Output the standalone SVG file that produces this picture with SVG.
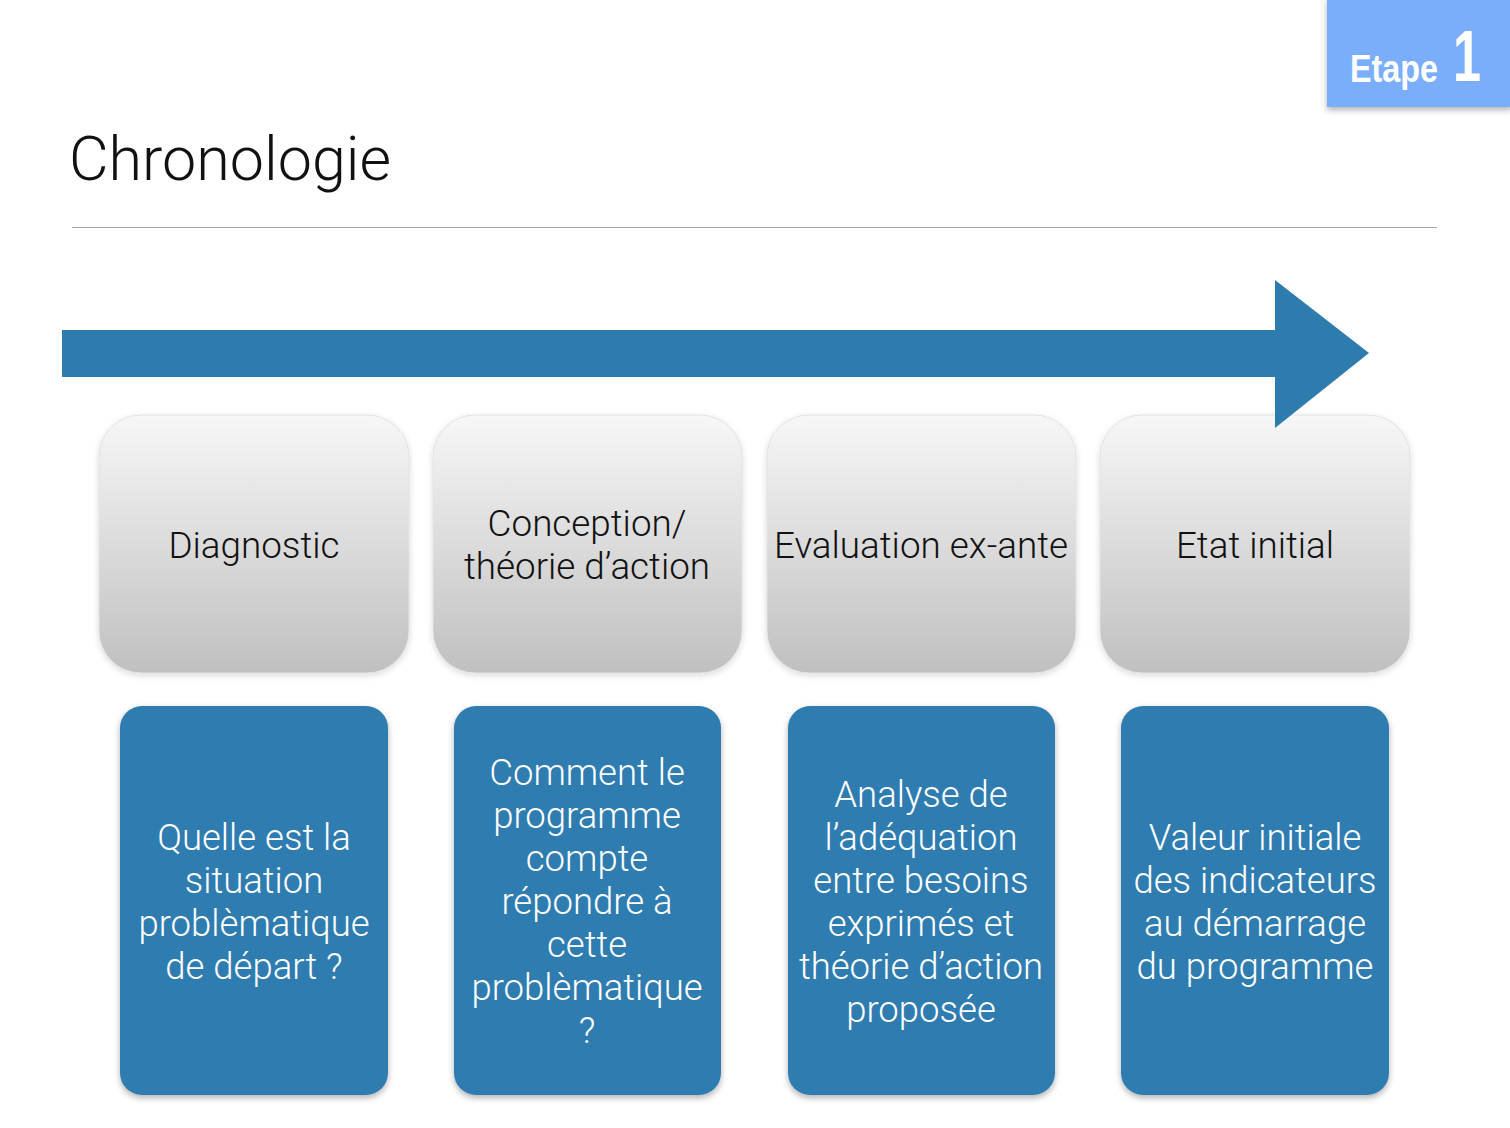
<svg xmlns="http://www.w3.org/2000/svg" width="1510" height="1128" viewBox="0 0 1510 1128">
<defs>
<linearGradient id="grayGrad" x1="0" y1="0" x2="0" y2="1">
<stop offset="0" stop-color="#f7f7f7"/>
<stop offset="1" stop-color="#c0c0c0"/>
</linearGradient>
<filter id="shadow" x="-10%" y="-10%" width="120%" height="120%">
<feDropShadow dx="0" dy="3" stdDeviation="3" flood-color="#000" flood-opacity="0.3"/>
</filter>
<filter id="shadowSoft" x="-10%" y="-10%" width="120%" height="120%">
<feDropShadow dx="0" dy="2" stdDeviation="3" flood-color="#000" flood-opacity="0.15"/>
</filter>
</defs>
<style>
.gray{fill:url(#grayGrad);stroke:#e2e2e2;stroke-width:1;filter:url(#shadowSoft)}
.blue{fill:#2f7bb0;filter:url(#shadow)}
.gtxt{font-family:Roboto,"Liberation Sans",Arial,sans-serif;font-weight:300;font-size:36.8px;fill:#111;text-anchor:middle}
.btxt{font-family:Roboto,"Liberation Sans",Arial,sans-serif;font-weight:300;font-size:36.5px;fill:#ffffff;text-anchor:middle}
</style>
<rect width="1510" height="1128" fill="#ffffff"/>

<g id="badge">
<rect x="1327" y="-2" width="185" height="109" fill="#7aaefb" filter="url(#shadow)"/>
<text x="1350" y="82" font-family="Liberation Sans,Arial,sans-serif" font-weight="bold" font-size="38" fill="#fff" textLength="88" lengthAdjust="spacingAndGlyphs">Etape</text>
<text x="1453" y="81" font-family="Liberation Sans,Arial,sans-serif" font-weight="bold" font-size="72" fill="#fff" textLength="28" lengthAdjust="spacingAndGlyphs">1</text>
</g>

<g id="title">
<text x="69" y="180" font-family="Roboto,Liberation Sans,Arial,sans-serif" font-weight="300" font-size="61" fill="#111">Chronologie</text>
<line x1="72" y1="227.5" x2="1437" y2="227.5" stroke="#aaaaaa" stroke-width="1"/>
</g>

<g id="node-diagnostic">
<rect class="gray" x="99" y="415" width="310" height="258" rx="42"/>
<text class="gtxt" x="254" y="558">Diagnostic</text>
</g>
<g id="node-conception">
<rect class="gray" x="433" y="415" width="309" height="258" rx="42"/>
<text class="gtxt" x="587" y="536">Conception/</text>
<text class="gtxt" x="587" y="579">théorie d’action</text>
</g>
<g id="node-evaluation">
<rect class="gray" x="767" y="415" width="309" height="258" rx="42"/>
<text class="gtxt" x="921" y="558">Evaluation ex-ante</text>
</g>
<g id="node-etat">
<rect class="gray" x="1100" y="415" width="310" height="258" rx="42"/>
<text class="gtxt" x="1255" y="558">Etat initial</text>
</g>

<g id="connectors">
<polygon points="62,330 1275,330 1275,280 1369,353 1275,428 1275,377 62,377" fill="#2e7bae"/>
</g>

<g id="node-q1">
<rect class="blue" x="120" y="706" width="268" height="389" rx="22"/>
<text class="btxt" x="254" y="850">Quelle est la</text>
<text class="btxt" x="254" y="893">situation</text>
<text class="btxt" x="254" y="936">problèmatique</text>
<text class="btxt" x="254" y="979">de départ ?</text>
</g>
<g id="node-q2">
<rect class="blue" x="454" y="706" width="267" height="389" rx="22"/>
<text class="btxt" x="587" y="785">Comment le</text>
<text class="btxt" x="587" y="828">programme</text>
<text class="btxt" x="587" y="871">compte</text>
<text class="btxt" x="587" y="914">répondre à</text>
<text class="btxt" x="587" y="957">cette</text>
<text class="btxt" x="587" y="1000">problèmatique</text>
<text class="btxt" x="587" y="1043">?</text>
</g>
<g id="node-q3">
<rect class="blue" x="788" y="706" width="267" height="389" rx="22"/>
<text class="btxt" x="921" y="807">Analyse de</text>
<text class="btxt" x="921" y="850">l’adéquation</text>
<text class="btxt" x="921" y="893">entre besoins</text>
<text class="btxt" x="921" y="936">exprimés et</text>
<text class="btxt" x="921" y="979">théorie d’action</text>
<text class="btxt" x="921" y="1022">proposée</text>
</g>
<g id="node-q4">
<rect class="blue" x="1121" y="706" width="268" height="389" rx="22"/>
<text class="btxt" x="1255" y="850">Valeur initiale</text>
<text class="btxt" x="1255" y="893">des indicateurs</text>
<text class="btxt" x="1255" y="936">au démarrage</text>
<text class="btxt" x="1255" y="979">du programme</text>
</g>
</svg>
